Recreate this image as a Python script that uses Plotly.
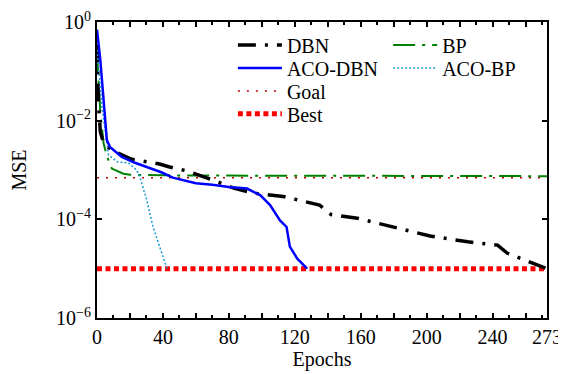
import plotly.graph_objects as go

# ---- data ----
dbn_x = [0, 1, 2, 4, 9, 15, 21, 31, 38, 44, 55, 70, 83, 95, 113, 135, 142, 158, 178, 202, 225, 243, 249, 257, 273]
dbn_y = [0.35, 0.02, 6e-3, 3.5e-3, 2.5e-3, 2.0e-3, 1.65e-3, 1.45e-3, 1.32e-3, 1.15e-3, 9.5e-4, 6.3e-4,
         4.3e-4, 3.4e-4, 2.9e-4, 1.95e-4, 1.25e-4, 1.05e-4, 7.2e-5, 4.6e-5, 3.5e-5, 3.0e-5, 2.05e-5, 1.6e-5, 1.0e-5]

acodbn_x = [0, 2, 4, 6, 8, 15, 23, 39, 46, 60, 70, 80, 91, 99, 105, 111, 115, 117, 121.5, 127.5]
acodbn_y = [0.7, 0.17, 0.026, 4e-3, 2.9e-3, 1.85e-3, 1.4e-3, 9e-4, 7e-4, 5.4e-4, 5e-4, 4.5e-4, 4.2e-4,
            3.1e-4, 1.95e-4, 9.5e-5, 7e-5, 2.8e-5, 1.6e-5, 1.0e-5]

bp_x = [0, 1, 2, 4, 6, 9, 16, 20, 25, 40, 80, 150, 273]
bp_y = [0.25, 0.05, 0.015, 3.5e-3, 1.9e-3, 1.07e-3, 8.4e-4, 8.0e-4, 7.9e-4, 7.8e-4, 7.7e-4, 7.6e-4, 7.5e-4]

acobp_x = [0, 3, 7, 12.5, 19, 24, 26, 27, 30, 34, 38, 42.5]
acobp_y = [0.27, 0.019, 2.0e-3, 1.45e-3, 1.4e-3, 1.0e-3, 7.2e-4, 5.4e-4, 2.6e-4, 7.0e-5, 2.75e-5, 1.0e-5]

goal_x = [0, 273]
goal_y = [7e-4, 7e-4]

best_x = [0, 273]
best_y = [1e-5, 1e-5]

x_tickvals = [0, 20, 40, 60, 80, 100, 120, 140, 160, 180, 200, 220, 240, 260, 273]
x_ticktext = ["0", "", "40", "", "80", "", "120", "", "160", "", "200", "", "240", "", "273"]
x_minor = [10, 30, 50, 70, 90, 110, 130, 150, 170, 190, 210, 230, 250, 270]
y_tickvals = [1, 1e-2, 1e-4, 1e-6]
y_ticktext = ["10<sup>0</sup>", "10<sup>\u22122</sup>", "10<sup>\u22124</sup>", "10<sup>\u22126</sup>"]

FONT = "Liberation Serif, Times New Roman, serif"

fig = go.Figure()
fig.add_trace(go.Scatter(x=best_x, y=best_y, mode="lines", name="Best", legend="legend6", showlegend=True,
                         line=dict(color="#ff0000", width=5, dash="5px,3.5px")))
fig.add_trace(go.Scatter(x=goal_x, y=goal_y, mode="lines", name="Goal", legend="legend5", showlegend=True,
                         line=dict(color="#c00000", width=1.5, dash="2px,7px")))
fig.add_trace(go.Scatter(x=bp_x, y=bp_y, mode="lines", name="BP", legend="legend2", showlegend=True,
                         line=dict(color="#008000", width=2, dash="22px,7px,3px,7px")))
fig.add_trace(go.Scatter(x=dbn_x, y=dbn_y, mode="lines", name="DBN", legend="legend", showlegend=True,
                         line=dict(color="#000000", width=3.5, dash="18px,9px,3px,9px")))
fig.add_trace(go.Scatter(x=acobp_x, y=acobp_y, mode="lines", name="ACO-BP", legend="legend4", showlegend=True,
                         line=dict(color="#1a9ad6", width=1.5, dash="2px,2px")))
fig.add_trace(go.Scatter(x=acodbn_x, y=acodbn_y, mode="lines", name="ACO-DBN", legend="legend3", showlegend=True,
                         line=dict(color="#0000ff", width=2.5)))

def leg(x, y):
    return dict(x=x, y=y, xanchor="left", yanchor="middle", bgcolor="rgba(0,0,0,0)", borderwidth=0,
                font=dict(family=FONT, size=20, color="black"), itemwidth=44)

col1, col2 = 0.302, 0.647
fig.update_layout(
    width=558, height=366,
    showlegend=True,
    margin=dict(l=89, r=19, t=14, b=56, autoexpand=False),
    paper_bgcolor="white", plot_bgcolor="white",
    font=dict(family=FONT, size=20, color="black"),
    legend=leg(col1, 0.922),
    legend2=leg(col2, 0.922),
    legend3=leg(col1, 0.845),
    legend4=leg(col2, 0.845),
    legend5=leg(col1, 0.767),
    legend6=leg(col1, 0.69),
    xaxis=dict(range=[0, 273], tickmode="array", tickvals=x_tickvals, ticktext=x_ticktext,
               ticks="inside", ticklen=5, tickwidth=1.5, tickcolor="black", automargin=False,
               minor=dict(tickmode="array", tickvals=x_minor, ticks="inside", ticklen=3, tickwidth=1.5, tickcolor="black"),
               showline=True, linewidth=2, linecolor="black", mirror="ticks", showgrid=False, zeroline=False,
               title=dict(text="Epochs", font=dict(family=FONT, size=20), standoff=4),
               tickfont=dict(family=FONT, size=20), ticklabelstandoff=0),
    yaxis=dict(type="log", range=[-6, 0], tickmode="array", tickvals=y_tickvals, ticktext=y_ticktext,
               ticks="inside", ticklen=5, tickwidth=1.5, tickcolor="black", automargin=False,
               showline=True, linewidth=2, linecolor="black", mirror="ticks", showgrid=False, zeroline=False,
               title=dict(text="MSE", font=dict(family=FONT, size=20), standoff=25),
               tickfont=dict(family=FONT, size=20)),
)

fig.write_html("out.html")
